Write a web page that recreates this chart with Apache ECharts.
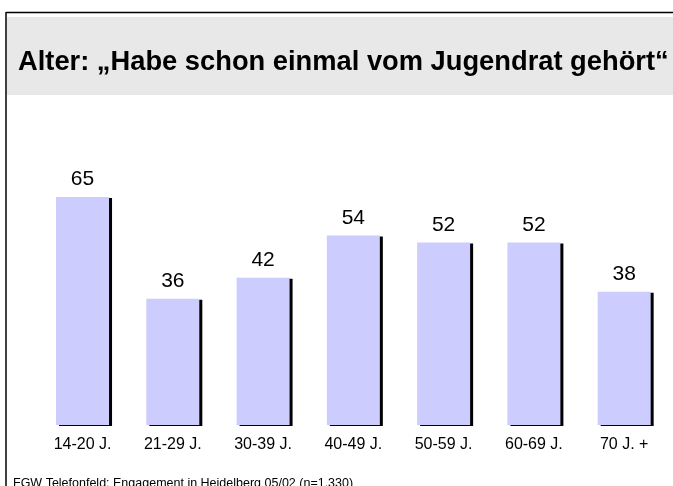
<!DOCTYPE html>
<html>
<head>
<meta charset="utf-8">
<script src="https://cdn.jsdelivr.net/npm/echarts@6/dist/echarts.min.js"></script>
<style>
  html, body { margin: 0; padding: 0; background: #fff; }
  #chart { width: 673px; height: 486px; }
</style>
</head>
<body>
<div id="chart"></div>
<script>
const titleText = 'Alter: \u201eHabe schon einmal vom Jugendrat geh\u00f6rt\u201c';
const sourceText = 'FGW Telefonfeld: Engagement in Heidelberg 05/02 (n=1.330)';
const ageGroups = ['14-20 J.', '21-29 J.', '30-39 J.', '40-49 J.', '50-59 J.', '60-69 J.', '70 J. +'];
const heardOf = [65, 36, 42, 54, 52, 52, 38];

const chart = echarts.init(document.getElementById('chart'));
const font = '"Liberation Sans", Arial, sans-serif';

chart.setOption({
  animation: false,
  textStyle: { fontFamily: font },
  graphic: [
    // frame top + left
    { type: 'line', shape: { x1: 6, y1: 12.5, x2: 673, y2: 12.5 }, style: { stroke: '#000', lineWidth: 1.5 } },
    { type: 'line', shape: { x1: 6, y1: 12, x2: 6, y2: 486 }, style: { stroke: '#000', lineWidth: 1.5 } },
    // grey title band
    { type: 'rect', shape: { x: 7, y: 17, width: 666, height: 78 }, style: { fill: '#e8e8e8' } },
    {
      type: 'text', left: 18, top: 49,
      style: { text: titleText, font: 'bold 27.3px ' + font, fill: '#000' }
    },
    {
      type: 'text', left: 13, top: 477,
      style: { text: sourceText, font: '12.5px ' + font, fill: '#000' }
    }
  ],
  grid: { left: 37.4, right: 3.7, top: 74.2, bottom: 61 },
  xAxis: {
    type: 'category',
    data: ageGroups,
    axisLine: { show: false },
    axisTick: { show: false },
    axisLabel: { color: '#000', fontSize: 16, margin: 12, fontFamily: font }
  },
  yAxis: {
    type: 'value',
    min: 0,
    max: 100,
    show: false,
    splitLine: { show: false }
  },
  series: [
    {
      type: 'bar',
      data: heardOf,
      barWidth: 53,
      itemStyle: {
        color: '#ccccff',
        shadowColor: '#000',
        shadowOffsetX: 3,
        shadowOffsetY: 1,
        shadowBlur: 0
      },
      label: {
        show: true,
        position: 'top',
        distance: 7,
        color: '#000',
        fontSize: 21,
        fontFamily: font
      }
    }
  ]
});
</script>
</body>
</html>
